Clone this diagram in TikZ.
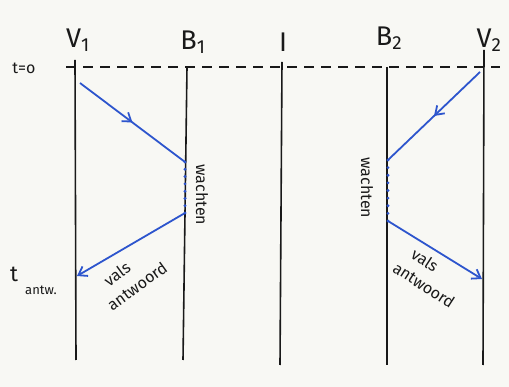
\documentclass[tikz,border=0pt]{standalone}
\usepackage{fontspec}
\setmainfont{Fira Sans}
\usetikzlibrary{arrows.meta,decorations.markings,calc}
\definecolor{paper}{RGB}{248,248,244}
\definecolor{pen}{RGB}{45,85,205}
\definecolor{ink}{RGB}{25,25,25}
\tikzset{
  world/.style={draw=ink, line width=1.6pt},
  sig/.style={draw=pen, line width=1.8pt},
  midarrow/.style={sig, decoration={markings, mark=at position 0.5 with {\arrow{Straight Barb[length=8pt,width=11pt]}}}, postaction={decorate}},
  endarrow/.style={sig, -{Straight Barb[length=8pt,width=11pt]}},
  waitdot/.style={fill=pen, draw=none},
  lab/.style={text=ink, font=\fontsize{27}{28}\selectfont},
  small/.style={text=ink, inner sep=0pt, font=\fontsize{16}{18}\selectfont},
}
\begin{document}
\begin{tikzpicture}[x=1pt,y=-1pt]
\fill[paper] (0,0) rectangle (509,387);
\useasboundingbox (0,0) rectangle (509,387);
% world lines
\coordinate (v1t) at (75,60);  \coordinate (v1b) at (76,360);
\coordinate (b1t) at (187,67); \coordinate (b1b) at (183,360);
\coordinate (it)  at (282,62); \coordinate (ib)  at (280,365);
\coordinate (b2t) at (387,67); \coordinate (b2b) at (387,365);
\coordinate (v2t) at (484,50); \coordinate (v2b) at (483,365);
\draw[world] (v1t) -- (v1b);
\draw[world] (b1t) -- (b1b);
\draw[world] (it) -- (ib);
\draw[world] (b2t) -- (b2b);
\draw[world] (v2t) -- (v2b);
% labels
\node[lab] (lv1) at (78,40) {V\textsubscript{1}};
\node[lab] (lb1) at (193,42) {B\textsubscript{1}};
\node[lab] (li)  at (283,42) {I};
\node[lab] (lb2) at (389,38) {B\textsubscript{2}};
\node[lab] (lv2) at (489,40) {V\textsubscript{2}};
% t=0 dashed line
\coordinate (d0) at (66,67); \coordinate (d1) at (500,67);
\draw[world, line width=1.2pt, dash pattern=on 10pt off 7pt] (d0) -- (d1);
\node[small] (t0) at (24,68) {t=o};
% left side signals
\coordinate (a1) at (80,83);   \coordinate (a2) at (185,162);
\coordinate (a3) at (185,213); \coordinate (a4) at (77,276);
\draw[midarrow] (a1) -- (a2);
\foreach \s in {0,0.143,...,1.01} \fill[waitdot] ($(a2)!\s!(a3)$) circle (1.6pt);
\draw[endarrow] (a3) -- (a4);
\node[small, rotate=-90] (w1) at (202,195) {wachten};
\node[text=ink, font=\fontsize{22}{22}\selectfont] (ta) at (14,274) {t};
\node[text=ink, font=\fontsize{13}{13}\selectfont] (taw) at (41,290) {antw.};
\node[small, rotate=36] (vl1) at (117,274) {vals};
\node[small, rotate=36] (an1) at (137,286) {antwoord};
% right side signals
\coordinate (c1) at (480,72);  \coordinate (c2) at (388,160);
\coordinate (c3) at (388,221); \coordinate (c4) at (482,279);
\draw[midarrow] (c1) -- (c2);
\foreach \s in {0,0.125,...,1.01} \fill[waitdot] ($(c2)!\s!(c3)$) circle (1.6pt);
\draw[endarrow] (c3) -- (c4);
\node[small, rotate=-90] (w2) at (367,188) {wachten};
\node[small, rotate=-33] (vl2) at (425,260) {vals};
\node[small, rotate=-33] (an2) at (424,285) {antwoord};
\end{tikzpicture}
\end{document}
